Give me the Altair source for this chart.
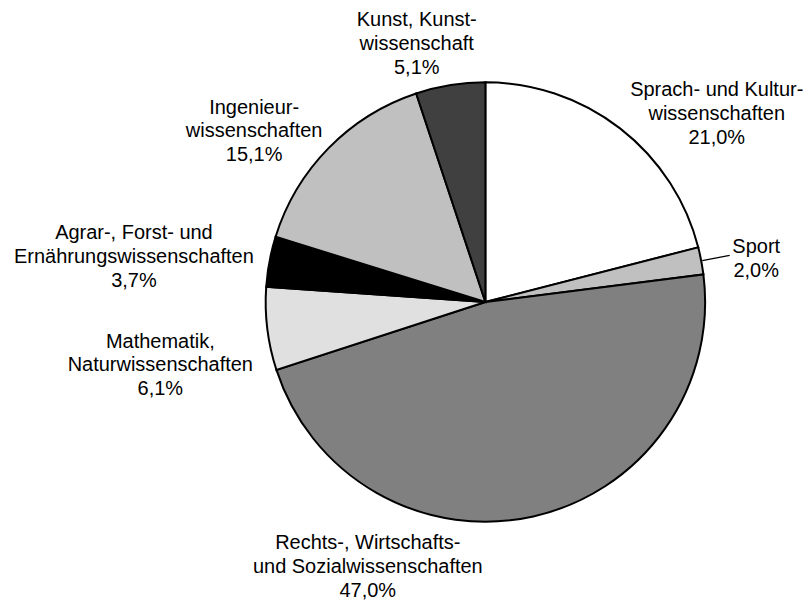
import altair as alt
import pandas as pd

# ---- data ----
categories = [
    "Sprach- und Kulturwissenschaften",
    "Sport",
    "Rechts-, Wirtschafts- und Sozialwissenschaften",
    "Mathematik, Naturwissenschaften",
    "Agrar-, Forst- und Ernährungswissenschaften",
    "Ingenieurwissenschaften",
    "Kunst, Kunstwissenschaft",
]
label_names = [
    "Sprach- und Kultur-\nwissenschaften",
    "Sport",
    "Rechts-, Wirtschafts-\nund Sozialwissenschaften",
    "Mathematik,\nNaturwissenschaften",
    "Agrar-, Forst- und\nErnährungswissenschaften",
    "Ingenieur-\nwissenschaften",
    "Kunst, Kunst-\nwissenschaft",
]
values = [21.0, 2.0, 47.0, 6.1, 3.7, 15.1, 5.1]

# ---- styles ----
fill_colors = ["#ffffff", "#c0c0c0", "#808080", "#e0e0e0", "#000000", "#c0c0c0", "#404040"]
# label placement: (radius from centre, dx, dy)
label_layout = {
    "Sprach- und Kulturwissenschaften": (298, 49, 23),
    "Sport": (274, 2, -4),
    "Rechts-, Wirtschafts- und Sozialwissenschaften": (290, -181, -42),
    "Mathematik, Naturwissenschaften": (332, 4, -1),
    "Agrar-, Forst- und Ernährungswissenschaften": (355, -3, -4),
    "Ingenieurwissenschaften": (288, -26, 7),
    "Kunst, Kunstwissenschaft": (268, -26, -18),
}

df = pd.DataFrame({
    "idx": list(range(len(categories))),
    "cat": categories,
    "value": values,
    "label": [n + "\n" + f"{v:.1f}".replace(".", ",") + "%" for n, v in zip(label_names, values)],
})

base = alt.Chart(df)

pie = base.mark_arc(outerRadius=220, stroke="black", strokeWidth=2).encode(
    theta=alt.Theta("value:Q", stack=True),
    order=alt.Order("idx:Q"),
    color=alt.Color("cat:N", scale=alt.Scale(domain=categories, range=fill_colors), legend=None),
)

angles = (
    base.transform_window(cum="sum(value)", sort=[alt.SortField("idx")], frame=[None, 0])
    .transform_joinaggregate(total="sum(value)")
    .transform_calculate(mid="(datum.cum - datum.value / 2) / datum.total * 2 * PI")
)

layers = [pie]
for cat in categories:
    r, dx, dy = label_layout[cat]
    layers.append(
        angles.transform_filter(alt.datum.cat == cat)
        .mark_text(
            radius=r, dx=dx, dy=dy, align="center", baseline="middle",
            lineBreak="\n", lineHeight=24, font="Liberation Sans", fontSize=20, color="black",
        )
        .encode(theta=alt.Theta("mid:Q", scale=None), text="label:N")
    )

leader = (
    angles.transform_filter(alt.datum.cat == "Sport")
    .transform_calculate(a0="datum.mid - 0.0025", a1="datum.mid + 0.0025")
    .mark_arc(innerRadius=221, outerRadius=249, color="black")
    .encode(theta=alt.Theta("a0:Q", scale=None), theta2="a1:Q")
)
layers.append(leader)

chart = (
    alt.layer(*layers)
    .resolve_scale(theta="independent")
    .properties(
        width=616, height=580,
        autosize=alt.AutoSizeParams(type="none"),
        padding={"left": 170, "top": 4, "right": 10, "bottom": 12},
    )
    .configure_view(stroke=None)
)

chart.save("out.html", embed_options={"renderer": "svg", "actions": False})
